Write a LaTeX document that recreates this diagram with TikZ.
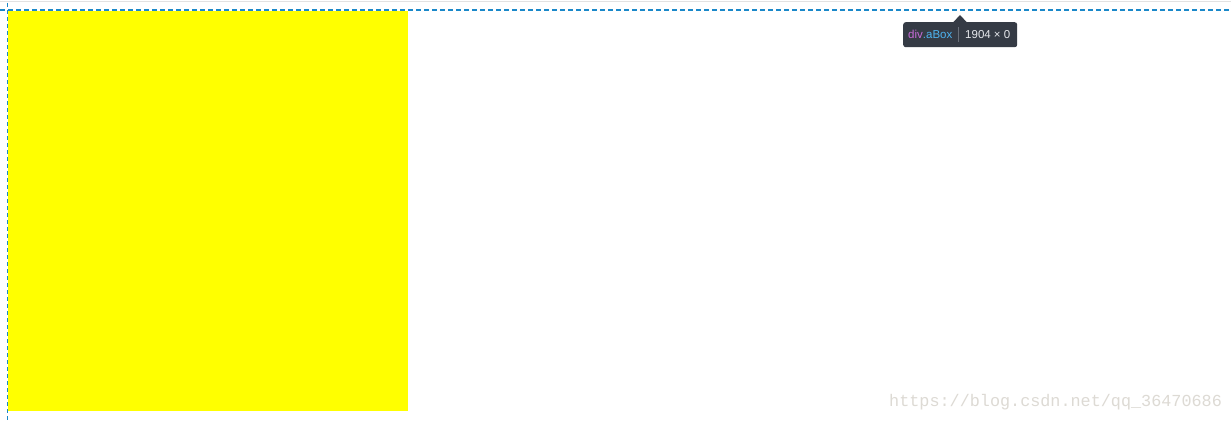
\documentclass[tikz,border=0pt]{standalone}
\usepackage{fontspec}
\setmainfont{Liberation Sans}
\newfontfamily\wmfont{Liberation Mono}
\definecolor{guideblue}{RGB}{26,136,201}
\definecolor{boxyellow}{RGB}{255,255,0}
\definecolor{tipbg}{RGB}{53,59,69}
\definecolor{tipdiv}{RGB}{199,107,216}
\definecolor{tipcls}{RGB}{77,179,240}
\definecolor{tipdim}{RGB}{230,232,236}
\definecolor{tipsep}{RGB}{106,112,122}
\definecolor{wmgray}{RGB}{221,218,212}
\definecolor{topgray}{RGB}{226,226,226}
\tikzset{
  guide/.style={draw=guideblue, line width=1.3pt, dash pattern=on 5pt off 3pt},
  vguide/.style={draw=guideblue, line width=0.9pt, dash pattern=on 4pt off 3pt},
  tipbox/.style={fill=tipbg, rounded corners=2.5pt, draw=none},
}
\begin{document}
\begin{tikzpicture}[x=1pt,y=-1pt]
\useasboundingbox (0,0) rectangle (1231,422);
\fill[white] (0,0) rectangle (1231,422);
% top gray rule
\fill[topgray] (0,1) rectangle (1231,2.5);
% yellow box
\node[fill=boxyellow, draw=none, minimum width=400pt, minimum height=400pt, inner sep=0pt, anchor=north west] (box) at (8,11) {};
% guides
\coordinate (hl) at (0,10);
\coordinate (hr) at (1231,10);
\draw[guide] (hl) -- (hr);
\coordinate (vt) at (7.5,3);
\coordinate (vb) at (7.5,422);
\draw[vguide] (vt) -- (vb);
% tooltip
\node[tipbox, minimum width=114pt, minimum height=25pt, inner sep=0pt, anchor=north west] (tip) at (903,22) {};
\fill[tipbg] (953,22.5) -- (960,15) -- (967,22.5) -- cycle;
\node[anchor=west, inner sep=0pt, font=\fontsize{11.5pt}{12pt}\selectfont] (tipname) at (908,34.5) {\textcolor{tipdiv}{div}\textcolor{tipcls}{.aBox}};
\draw[tipsep, line width=0.7pt] (958.5,27) -- (958.5,42);
\node[anchor=west, inner sep=0pt, font=\fontsize{11.5pt}{12pt}\selectfont, text=tipdim] (tipdimtext) at (965,34.5) {1904 × 0};
% watermark
\node[anchor=west, inner sep=0pt, font=\wmfont\fontsize{16.8pt}{18pt}\selectfont, text=wmgray] (wm) at (889,402) {https://blog.csdn.net/qq\_36470686};
\end{tikzpicture}
\end{document}
